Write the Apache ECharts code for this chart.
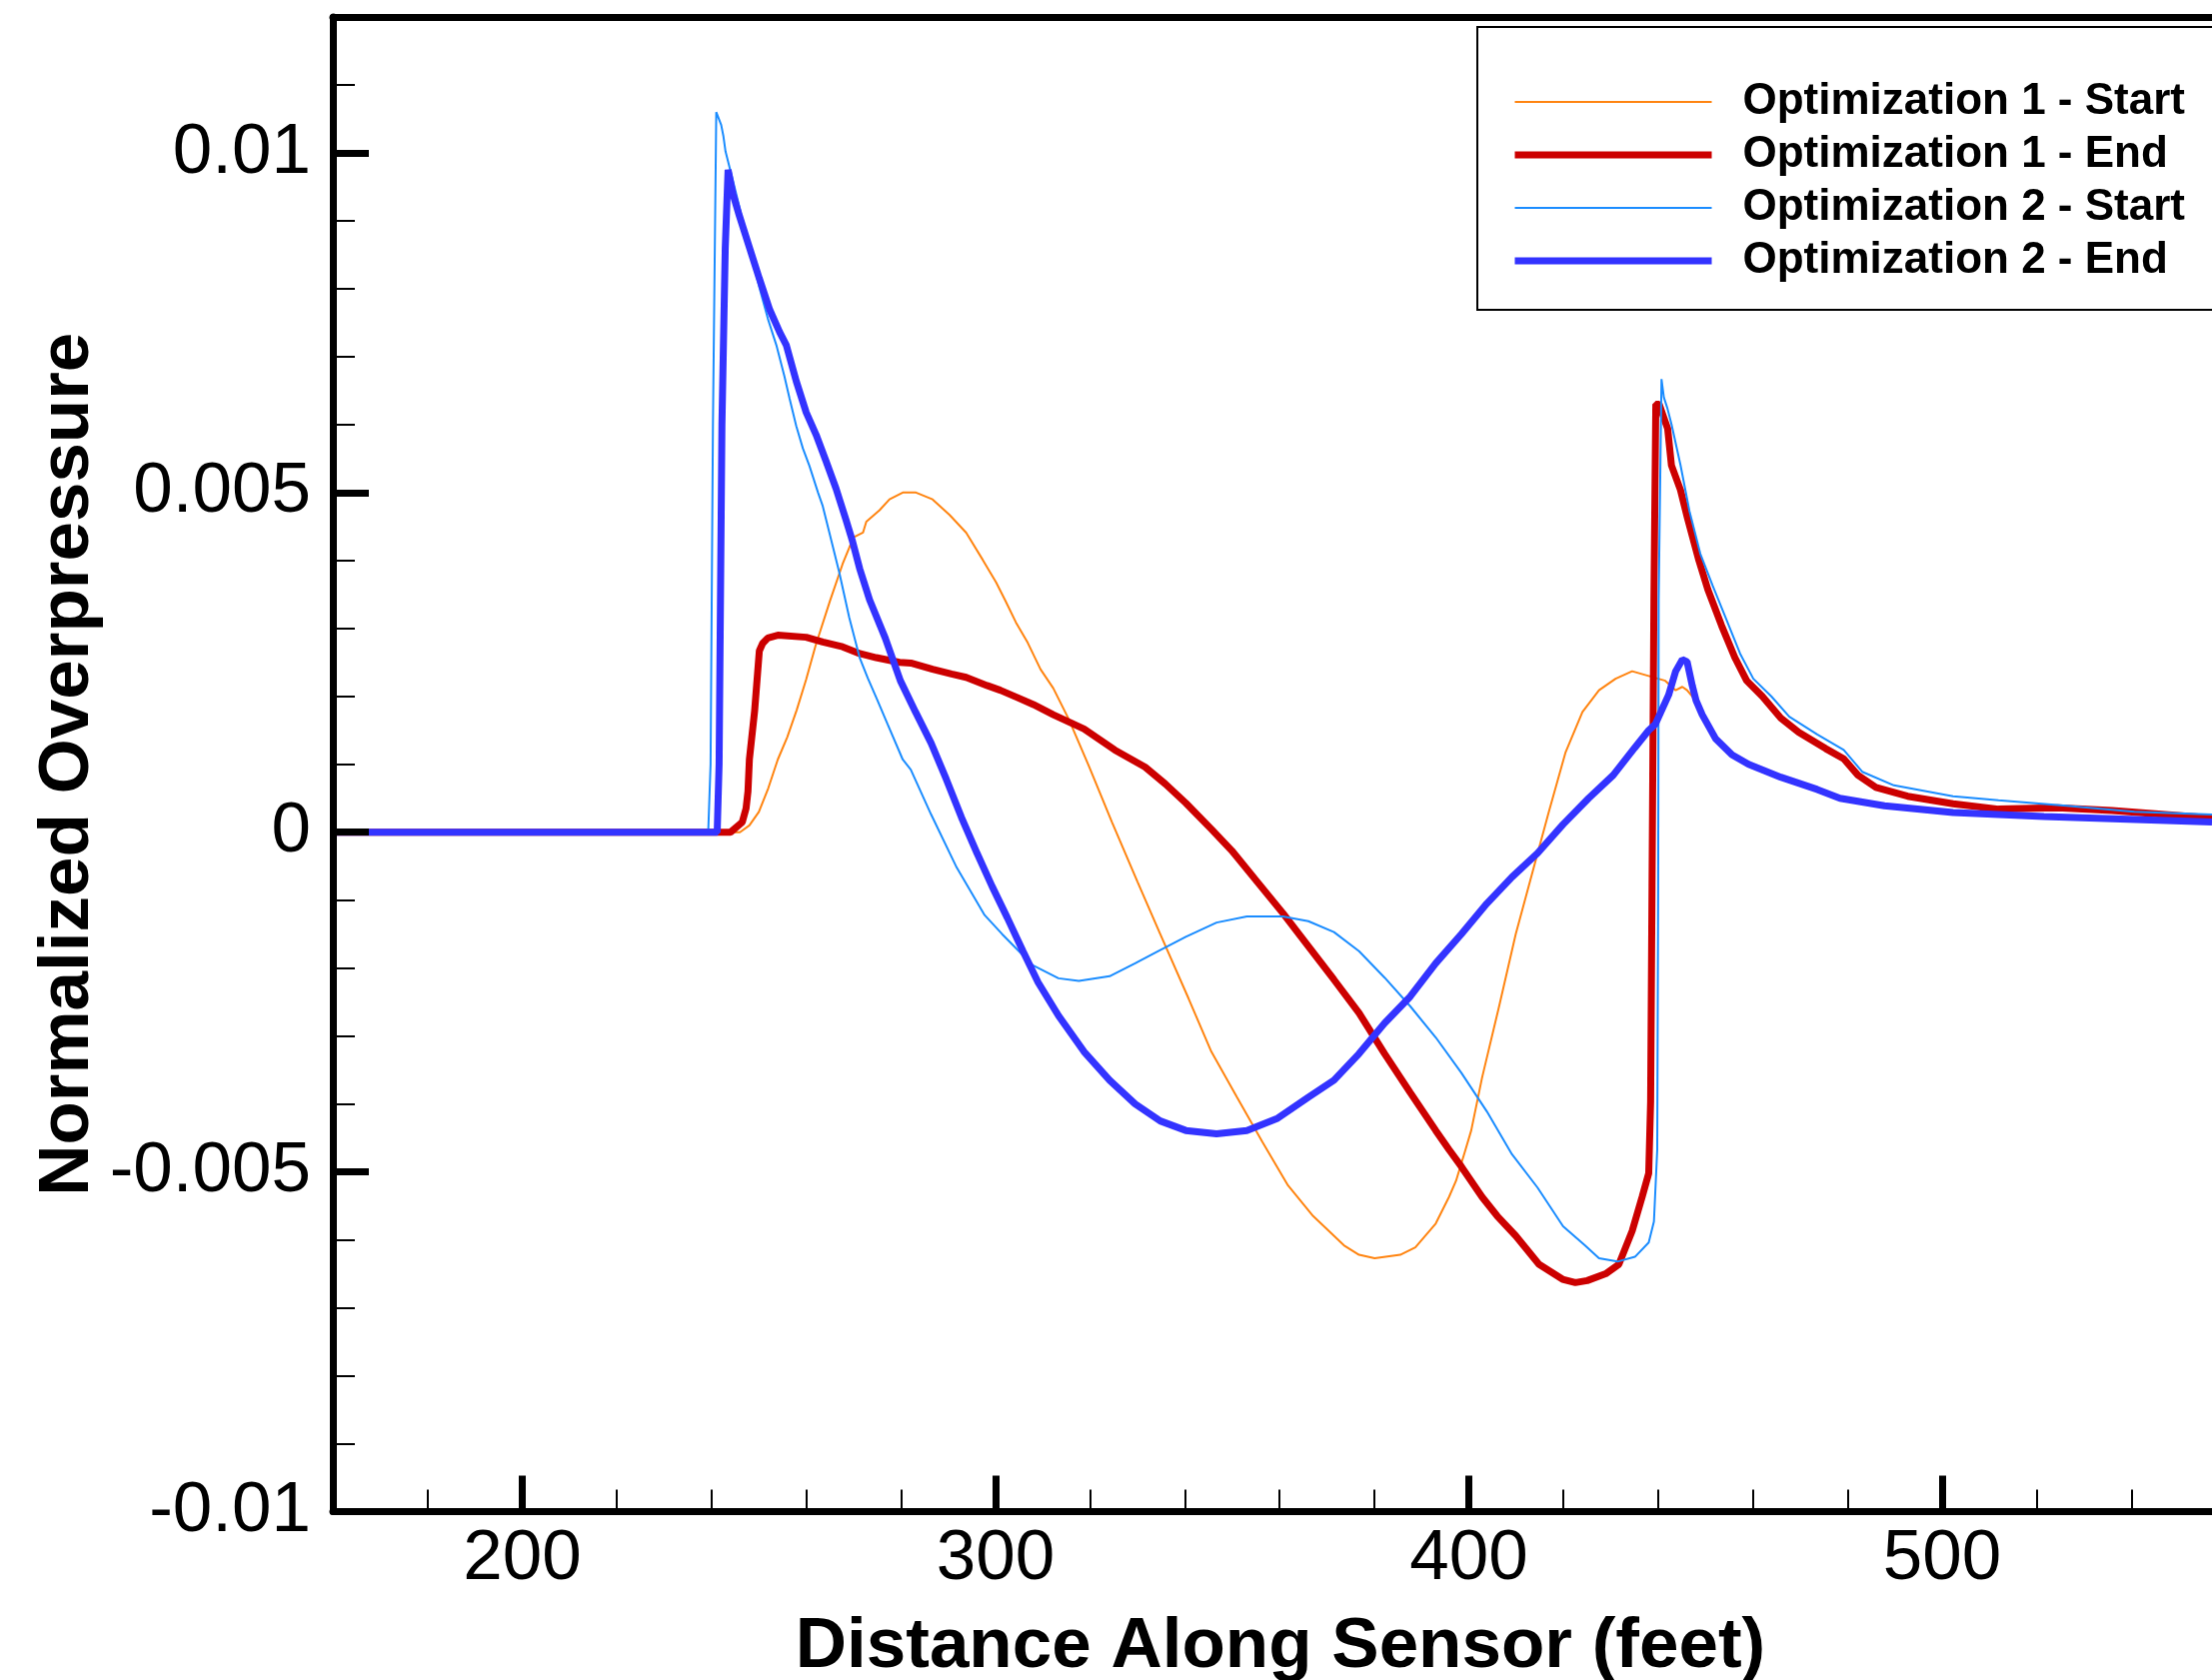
<!DOCTYPE html>
<html>
<head>
<meta charset="utf-8">
<script src="https://cdn.jsdelivr.net/npm/echarts@6/dist/echarts.min.js"></script>
<style>
html,body{margin:0;padding:0;background:#fff;}
#chart{width:2213px;height:1681px;}
</style>
</head>
<body>
<div id="chart"></div>
<script>
const seriesNames = ['Optimization 1 - Start','Optimization 1 - End','Optimization 2 - Start','Optimization 2 - End'];
const seriesColors = ['#FF8410','#CC0000','#1A8CFF','#3333FF'];

const xMajorTicks = [200,300,400,500];
const xMinorTicks = [180,220,240,260,280,320,340,360,380,420,440,460,480,520,540];
const yMajorTicks = [-0.01,-0.005,0,0.005,0.01];
const yMinorTicks = [-0.009,-0.008,-0.007,-0.006,-0.004,-0.003,-0.002,-0.001,0.001,0.002,0.003,0.004,0.006,0.007,0.008,0.009,0.011];

const opt1Start = [[160,0],[246,0],[248,0.0001],[250,0.0003],[252,0.00065],[254,0.00107],[256,0.0014],[258,0.0018],[260,0.00225],[262,0.00275],[265,0.0034],[267.7,0.00395],[270,0.00434],[272,0.00441],[272.7,0.00457],[275.5,0.00474],[277.6,0.0049],[280.4,0.005],[283.2,0.005],[286.7,0.0049],[290.3,0.00467],[293.8,0.00441],[297.3,0.00401],[300.1,0.00368],[302,0.00342],[304.3,0.00309],[306.8,0.00279],[309.5,0.0024],[312.2,0.00212],[315.5,0.00166],[319.8,0.00096],[324.6,0.00015],[330,-0.00073],[334.8,-0.0015],[340.8,-0.00245],[345.6,-0.00323],[351,-0.0039],[356.4,-0.00456],[361.8,-0.0052],[367.1,-0.00565],[373.6,-0.00608],[376.8,-0.00622],[380.1,-0.00627],[385.5,-0.00622],[388.7,-0.00611],[393,-0.00576],[395.8,-0.00537],[397.3,-0.00513],[399.3,-0.00467],[400.5,-0.00439],[402.8,-0.00361],[406.4,-0.00256],[409.9,-0.0015],[413.4,-0.0006],[416.9,0.0003],[420.4,0.00117],[424,0.00177],[427.5,0.00209],[431,0.00226],[434.5,0.00237],[438,0.0023],[441.5,0.00223],[443.7,0.00209],[445.1,0.00214],[446.1,0.00209],[447.2,0.002],[449.3,0.00173],[452.1,0.00138],[455.6,0.00114],[459.1,0.001],[465.9,0.00081],[473.6,0.00063],[478.4,0.0005],[487.8,0.00039],[502.3,0.00029],[521.5,0.00023],[557,0.00015]];

const opt1End = [[160,0],[244,0],[246.5,0.00015],[247.3,0.00035],[247.7,0.0006],[248,0.00107],[249.1,0.00178],[250.1,0.00267],[250.8,0.00278],[251.9,0.00286],[254,0.0029],[260,0.00287],[263.5,0.0028],[267.7,0.00273],[271.3,0.00263],[274.8,0.00257],[279.7,0.0025],[282.1,0.00249],[286.7,0.0024],[290.7,0.00233],[293.8,0.00228],[298.2,0.00216],[301,0.00209],[304.7,0.00198],[308,0.00188],[312.2,0.00173],[318.7,0.00152],[325.2,0.00121],[331.6,0.00096],[335.9,0.00071],[340.2,0.00043],[345.6,0.000045],[349.9,-0.00027],[355.3,-0.00073],[360.7,-0.00119],[366.1,-0.00168],[371.5,-0.00217],[376.8,-0.00266],[382.2,-0.00326],[387.6,-0.00383],[393,-0.00439],[395.8,-0.00467],[398.4,-0.00492],[402.8,-0.00537],[406,-0.00565],[409.9,-0.00594],[414.8,-0.00636],[419.8,-0.00658],[422.5,-0.00663],[425,-0.0066],[428.9,-0.0065],[431.7,-0.00636],[434.5,-0.00587],[436.6,-0.00537],[438,-0.00502],[438.4,-0.00397],[438.7,-0.0008],[439.1,0.00342],[439.5,0.0063],[440.2,0.0063],[441.2,0.0061],[442,0.00594],[442.8,0.0054],[444.7,0.00504],[446.2,0.00462],[448.6,0.004],[450.5,0.00357],[453.4,0.00304],[456.2,0.00257],[458.7,0.00223],[462,0.002],[465.9,0.00168],[469.7,0.00147],[475.4,0.00123],[479.2,0.00108],[482.2,0.00084],[486,0.00066],[492.7,0.00053],[502.3,0.00042],[511.9,0.00034],[524.4,0.00036],[535.9,0.00032],[557,0.00021]];

const opt2Start = [[160,0],[239.3,0],[239.8,0.001],[240.3,0.006],[241,0.0106],[241.35,0.01061],[242.05,0.01041],[242.5,0.01025],[242.96,0.01002],[243.8,0.00979],[245.2,0.0094],[246.6,0.009],[248,0.00861],[250.1,0.00802],[251.9,0.00756],[253.7,0.00717],[255.4,0.00671],[256.5,0.00638],[257.9,0.00598],[259.3,0.00565],[260.7,0.00539],[262.5,0.005],[263.5,0.0048],[264.9,0.00441],[267,0.00382],[269.1,0.00316],[271.3,0.00257],[273,0.00227],[275,0.00195],[277.2,0.00159],[280.4,0.00107],[282.1,0.00092],[286.4,0.00026],[291.8,-0.00052],[297.7,-0.00122],[301.4,-0.0015],[307.9,-0.00196],[313.3,-0.00215],[317.6,-0.00219],[324.1,-0.00212],[329.5,-0.00193],[333.8,-0.00177],[340.2,-0.00154],[346.7,-0.00133],[353.1,-0.00124],[360.7,-0.00124],[366.1,-0.00131],[371.5,-0.00147],[376.8,-0.00175],[382.2,-0.00214],[387.6,-0.00256],[393,-0.00302],[398.4,-0.00354],[403.8,-0.00411],[409.1,-0.00474],[414.5,-0.00523],[419.9,-0.0058],[424.5,-0.00608],[427.5,-0.00627],[431.4,-0.00632],[435.1,-0.00625],[438,-0.00604],[439.1,-0.00573],[439.8,-0.00467],[440,-0.0008],[440.1,0.00342],[440.7,0.00667],[441.2,0.0064],[441.9,0.00625],[442.8,0.00601],[444.7,0.00541],[446.6,0.00473],[448.9,0.0041],[451.5,0.00363],[454.3,0.00315],[457.3,0.00263],[460.1,0.00226],[463.9,0.002],[467.7,0.0017],[473.6,0.00144],[479.2,0.00121],[483.1,0.00089],[489.8,0.00069],[502.3,0.00053],[511.9,0.00047],[526.3,0.00039],[540.6,0.0003],[557,0.00026]];

const opt2End = [[160,0],[241.2,0],[241.6,0.001],[242.2,0.006],[242.9,0.0086],[243.5,0.00975],[244.5,0.0094],[245.9,0.00907],[248,0.00861],[250.1,0.00815],[252.3,0.00769],[254.4,0.00736],[255.8,0.00717],[257.9,0.00664],[260,0.00618],[262.1,0.00585],[264.2,0.00546],[266.3,0.00506],[268.4,0.0046],[269.8,0.00428],[271.3,0.00388],[273.4,0.00342],[276.7,0.00286],[279.9,0.00223],[283.1,0.00177],[286.4,0.00131],[289.6,0.00078],[292.8,0.00022],[296.1,-0.00031],[299.3,-0.0008],[302.5,-0.00126],[305.8,-0.00175],[309,-0.00221],[313.3,-0.0027],[318.7,-0.00323],[324.1,-0.00365],[329.5,-0.004],[334.8,-0.00425],[340.2,-0.00439],[346.7,-0.00444],[353.1,-0.00439],[359.6,-0.00421],[366.1,-0.0039],[371.5,-0.00365],[376.8,-0.00326],[382.2,-0.00281],[387.6,-0.00242],[393,-0.00193],[398.4,-0.0015],[403.8,-0.00105],[409.1,-0.00066],[414.5,-0.00031],[419.9,0.000115],[425.3,0.0005],[430.5,0.00084],[435,0.00124],[438,0.0015],[439.4,0.00159],[442.2,0.00202],[443.7,0.00237],[445.1,0.00254],[446.1,0.00251],[447.2,0.00216],[448,0.00194],[449.3,0.00173],[452.1,0.00138],[455.6,0.00114],[459.1,0.001],[465.9,0.00081],[473.6,0.00063],[478.4,0.0005],[487.8,0.00039],[502.3,0.00029],[521.5,0.00023],[557,0.00015]];

const seriesData = [opt1Start, opt1End, opt2Start, opt2End];
const seriesWidths = [2, 7, 2, 7];

const FONT = "'Liberation Sans', Arial, Helvetica, sans-serif";

const chart = echarts.init(document.getElementById('chart'), null, {renderer: 'canvas'});
const option = {
  animation: false,
  backgroundColor: '#fff',
  grid: {left: 333, top: 17, right: 0, bottom: 168.5, show: false, containLabel: false, outerBoundsMode: 'none'},
  legend: {
    orient: 'vertical',
    left: 1478, top: 27,
    padding: [53, 80, 27, 34],
    itemWidth: 197, itemHeight: 14, itemGap: 9,
    backgroundColor: '#fff',
    borderColor: '#000', borderWidth: 2,
    itemStyle: {opacity: 0},
    data: seriesNames.map((n, i) => ({
      name: n,
      lineStyle: {width: seriesWidths[i], color: seriesColors[i]},
      itemStyle: {opacity: 0}
    })),
    textStyle: {fontFamily: FONT, fontSize: 44, fontWeight: 'bold', color: '#000', lineHeight: 44, padding: [0, 0, 0, 26]}
  },
  xAxis: [{
    type: 'value', min: 160, max: 557, position: 'bottom', z: 5,
    axisLine: {show: true, onZero: false, lineStyle: {color: '#000', width: 7}},
    axisTick: {show: true, inside: true, length: 36, customValues: xMajorTicks, lineStyle: {color: '#000', width: 7}},
    axisLabel: {show: true, customValues: xMajorTicks, fontSize: 71, color: '#000', margin: 12, fontFamily: FONT},
    splitLine: {show: false},
    name: 'Distance Along Sensor (feet)', nameLocation: 'middle', nameGap: 100, nameMoveOverlap: false,
    nameTextStyle: {fontFamily: FONT, fontSize: 71, fontWeight: 'bold', color: '#000', padding: [0, 0, 0, 16]}
  }, {
    type: 'value', min: 160, max: 557, position: 'bottom', z: 5,
    axisLine: {show: false, onZero: false},
    axisTick: {show: true, inside: true, length: 22, customValues: xMinorTicks, lineStyle: {color: '#000', width: 2}},
    axisLabel: {show: false},
    splitLine: {show: false}
  }, {
    type: 'value', min: 160, max: 557, position: 'top', z: 5,
    axisLine: {show: true, onZero: false, lineStyle: {color: '#000', width: 7}},
    axisTick: {show: false},
    axisLabel: {show: false},
    splitLine: {show: false}
  }],
  yAxis: [{
    type: 'value', min: -0.01, max: 0.012, position: 'left', z: 5,
    axisLine: {show: true, onZero: false, lineStyle: {color: '#000', width: 7}},
    axisTick: {show: true, inside: true, length: 36, customValues: yMajorTicks, lineStyle: {color: '#000', width: 7}},
    axisLabel: {show: true, customValues: yMajorTicks, fontSize: 71, color: '#000', margin: 22, fontFamily: FONT,
      formatter: v => String(+(+v).toFixed(4))},
    splitLine: {show: false},
    name: 'Normalized Overpressure', nameLocation: 'middle', nameGap: 229, nameMoveOverlap: false,
    nameTextStyle: {fontFamily: FONT, fontSize: 71, fontWeight: 'bold', color: '#000'}
  }, {
    type: 'value', min: -0.01, max: 0.012, position: 'left', z: 5,
    axisLine: {show: false, onZero: false},
    axisTick: {show: true, inside: true, length: 22, customValues: yMinorTicks, lineStyle: {color: '#000', width: 2}},
    axisLabel: {show: false},
    splitLine: {show: false}
  }],
  series: seriesNames.map((name, i) => ({
    name: name,
    type: 'line',
    xAxisIndex: 0, yAxisIndex: 0,
    data: seriesData[i],
    symbol: 'none', showSymbol: false,
    smooth: false,
    lineStyle: {color: seriesColors[i], width: seriesWidths[i]},
    itemStyle: {color: seriesColors[i]},
    emphasis: {disabled: true}
  }))
};
chart.setOption(option);
</script>
</body>
</html>
